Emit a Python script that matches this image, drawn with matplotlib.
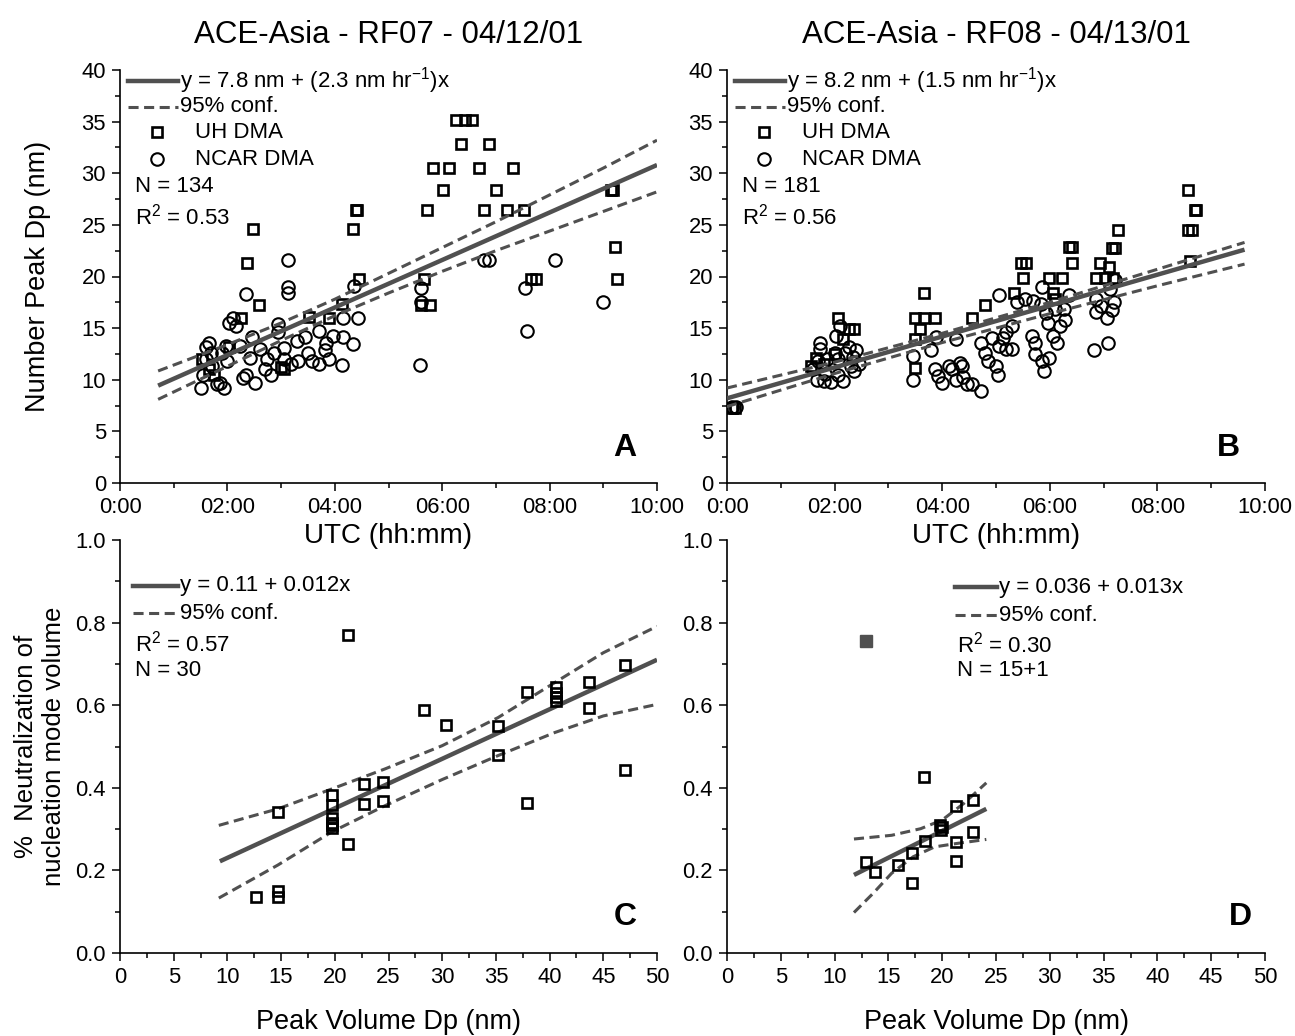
import numpy as np
import matplotlib.pyplot as plt
from matplotlib.ticker import MultipleLocator

plt.rcParams['font.family'] = ['Liberation Sans', 'DejaVu Sans']
plt.rcParams['mathtext.fontset'] = 'custom'
plt.rcParams['mathtext.rm'] = 'Liberation Sans'
plt.rcParams['mathtext.default'] = 'regular'

# ---- panel A : RF07, peak Dp vs time (hours UTC) ----
uh_A_t = [2.48, 2.37, 2.58, 2.26, 4.39, 4.42, 4.34, 4.45, 6.26, 6.42, 6.55, 6.35, 6.88,
          5.83, 6.13, 6.68, 7.31, 6.02, 7.00, 5.71, 6.77, 7.21, 7.53, 9.14, 9.18, 9.21,
          9.25, 5.66, 5.61, 5.77, 7.65, 7.74, 4.13, 1.52, 1.65, 2.03, 3.00, 3.06, 3.52,
          3.90, 1.75]
uh_A_dp = [24.6, 21.3, 17.2, 16.0, 26.4, 26.4, 24.6, 19.8, 35.2, 35.2, 35.2, 32.8, 32.8,
           30.5, 30.5, 30.5, 30.5, 28.4, 28.4, 26.4, 26.4, 26.4, 26.4, 28.4, 28.4, 22.9,
           19.8, 19.8, 17.2, 17.2, 19.8, 19.8, 17.3, 12.0, 11.0, 13.2, 11.2, 11.0, 16.1,
           16.0, 10.5]
nc_A_t = [3.13, 3.13, 3.13, 2.35, 5.61, 5.61, 5.59, 6.77, 6.87, 8.10, 7.55, 7.57, 8.99,
          4.35, 4.43, 4.34, 4.16, 4.15, 3.97, 4.13, 3.83, 3.82, 3.71, 3.58, 3.71, 3.45,
          3.32, 3.19, 3.06, 3.06, 2.94, 2.87, 2.81, 2.74, 2.52, 2.42, 2.45, 2.35, 2.29,
          2.23, 2.16, 2.10, 2.03, 1.97, 1.90, 1.87, 1.94, 1.81, 1.65, 1.61, 1.55, 1.50,
          1.71, 2.94, 1.60, 1.70, 2.00, 2.60, 2.70, 3.30, 3.50, 3.90]
nc_A_dp = [21.6, 19.0, 18.4, 18.3, 18.9, 17.5, 11.4, 21.6, 21.6, 21.6, 18.9, 14.7, 17.5,
           19.1, 16.0, 13.5, 14.1, 16.0, 14.2, 11.4, 13.6, 12.9, 11.5, 11.8, 14.7, 14.1,
           11.8, 11.5, 12.0, 13.1, 14.6, 12.6, 10.5, 12.0, 9.7, 12.1, 14.1, 10.5, 10.2,
           13.3, 15.2, 16.0, 15.5, 13.3, 12.6, 9.7, 9.2, 9.6, 13.6, 12.0, 10.5, 9.2,
           11.3, 15.4, 13.2, 12.6, 11.8, 13.0, 11.0, 13.8, 12.6, 12.0]
fit_A_t = [0.71, 10.0]
fit_A_dp = [9.43, 30.8]
band_A_t = [0.71, 2, 3, 4, 5, 6, 7, 8, 9, 10]
band_A_hi = [10.85, 13.4, 15.5, 17.8, 20.3, 22.8, 25.3, 27.9, 30.5, 33.2]
band_A_lo = [8.1, 11.3, 13.8, 16.2, 18.4, 20.5, 22.5, 24.4, 26.3, 28.2]

# ---- panel B : RF08 ----
uh_B_t = [8.56, 8.69, 8.72, 8.64, 8.56, 8.60, 7.26, 7.22, 7.15, 6.36, 6.42, 6.42, 5.46,
          5.56, 5.51, 5.99, 6.22, 6.94, 6.86, 7.02, 5.33, 6.06, 4.79, 4.56, 3.66, 3.50,
          3.66, 3.86, 3.59, 3.50, 3.50, 2.06, 2.36, 2.26, 2.16, 1.66, 1.56, 0.10, 0.15,
          7.10, 7.18, 6.09, 1.80, 2.00]
uh_B_dp = [28.4, 26.4, 26.4, 24.5, 24.5, 21.5, 24.5, 22.8, 22.8, 22.9, 22.9, 21.3, 21.3,
           21.3, 19.9, 19.9, 19.9, 21.3, 19.9, 19.9, 18.4, 18.4, 17.2, 16.0, 18.4, 16.0,
           16.0, 16.0, 14.9, 13.9, 11.1, 16.0, 14.9, 14.9, 13.9, 12.1, 11.3, 7.3, 7.3,
           20.9, 19.9, 17.8, 11.5, 12.5]
nc_B_t = [0.10, 0.17, 1.73, 1.73, 1.60, 1.67, 1.80, 1.93, 2.06, 2.16, 2.06, 1.86, 2.00,
          2.20, 2.30, 2.36, 2.03, 2.10, 2.26, 2.40, 1.83, 1.70, 2.35, 2.45,
          3.46, 3.46, 3.79, 3.89, 3.86, 3.93, 4.00, 4.13, 4.19, 4.26, 4.26, 4.33, 4.39,
          4.46, 4.56, 4.36, 4.73,
          4.73, 4.79, 4.86, 5.00, 5.03, 4.93, 5.06, 5.19, 5.29, 5.19, 5.29, 5.06, 5.13,
          5.39, 5.53, 5.69, 5.83, 5.66, 5.73, 5.73, 5.86, 5.89, 5.99, 5.86, 5.93, 5.96,
          6.06, 6.13, 6.19, 6.29, 6.36, 6.26, 6.09,
          6.82, 7.09, 6.86, 6.96, 7.06, 7.16, 7.19, 6.86, 7.12, 7.22]
nc_B_dp = [7.4, 7.4, 13.6, 13.0, 11.0, 10.0, 9.9, 9.8, 10.5, 9.9, 12.0, 12.0, 12.6,
           12.6, 11.3, 10.8, 14.2, 15.2, 13.2, 12.9, 10.6, 11.8, 12.2, 11.5,
           12.3, 10.0, 12.9, 14.1, 11.0, 10.4, 9.7, 11.3, 11.0, 13.9, 10.0, 11.6, 10.3,
           9.6, 9.6, 11.3, 8.9,
           13.6, 12.6, 11.8, 11.3, 10.5, 14.0, 13.3, 13.0, 13.0, 14.6, 15.2, 18.2, 14.0,
           17.5, 17.8, 17.6, 17.3, 14.2, 13.6, 12.5, 11.8, 10.8, 12.1, 19.0, 16.5, 15.5,
           14.2, 13.6, 15.2, 15.8, 18.2, 16.9, 16.9,
           12.9, 13.6, 16.6, 17.1, 16.0, 16.8, 17.5, 17.8, 18.8, 19.7]
fit_B_t = [0.0, 9.62]
fit_B_dp = [8.2, 22.6]
band_B_t = [0, 2, 4, 6, 8, 9.62]
band_B_hi = [9.2, 11.7, 14.5, 17.5, 20.7, 23.3]
band_B_lo = [7.4, 10.6, 13.6, 16.4, 19.1, 21.2]

# ---- panel C : neutralization vs peak volume Dp ----
c_dp = [21.2, 47.0, 43.7, 43.7, 40.6, 40.6, 40.6, 37.9, 28.3, 30.4, 35.2, 35.2, 37.9,
        47.0, 22.7, 24.5, 22.7, 24.5, 19.7, 19.7, 19.7, 19.7, 19.7, 21.2, 14.7, 12.7,
        14.7, 14.7, 19.7, 40.6]
c_neut = [0.770, 0.697, 0.655, 0.594, 0.645, 0.629, 0.611, 0.633, 0.588, 0.552, 0.550,
          0.479, 0.364, 0.443, 0.409, 0.413, 0.361, 0.369, 0.383, 0.358, 0.326, 0.314,
          0.303, 0.264, 0.342, 0.136, 0.151, 0.136, 0.310, 0.620]
fit_C_dp = [9.3, 50.0]
fit_C_y = [0.222, 0.71]
band_C_dp = [9.2, 14.7, 19.7, 24.7, 30.0, 35.2, 40.5, 45.0, 50.0]
band_C_hi = [0.309, 0.349, 0.397, 0.446, 0.502, 0.570, 0.655, 0.727, 0.791]
band_C_lo = [0.133, 0.213, 0.293, 0.357, 0.420, 0.478, 0.534, 0.574, 0.602]

# ---- panel D ----
d_dp = [18.3, 22.9, 21.3, 19.8, 19.9, 18.4, 21.3, 22.9, 21.3, 17.2, 15.9, 12.9, 13.8, 17.2, 20.0]
d_neut = [0.426, 0.371, 0.355, 0.309, 0.297, 0.272, 0.269, 0.293, 0.223, 0.241, 0.213,
          0.221, 0.195, 0.169, 0.305]
d_out_dp = [12.9]
d_out_neut = [0.756]
fit_D_dp = [11.8, 24.1]
fit_D_y = [0.189, 0.349]
band_D_hi_dp = [11.8, 15.3, 18.0, 20.0, 22.0, 24.1]
band_D_hi = [0.276, 0.285, 0.301, 0.322, 0.362, 0.412]
band_D_lo_dp = [11.8, 13.6, 15.3, 17.3, 19.3, 21.3, 24.1]
band_D_lo = [0.098, 0.145, 0.193, 0.233, 0.257, 0.265, 0.275]

time_ticks = [0, 2, 4, 6, 8, 10]
time_labels = ['0:00', '02:00', '04:00', '06:00', '08:00', '10:00']

GRAY = '#505050'
FS = 16
TICK_FS = 15.8
DASH = (3.3, 1.8)

fig = plt.figure(figsize=(12.95, 10.36), dpi=100)
W, H = 1295, 1036


def make_ax(x0, y_bottom, w):
    return fig.add_axes([x0 / W, 1 - y_bottom / H, w / W, 413 / H])


axA = make_ax(120, 483, 537)
axB = make_ax(727, 483, 538)
axC = make_ax(120, 953, 537)
axD = make_ax(727, 953, 538)

for ax in (axA, axB, axC, axD):
    ax.patch.set_visible(False)
    for s in ('top', 'right'):
        ax.spines[s].set_visible(False)
    for s in ('left', 'bottom'):
        ax.spines[s].set_linewidth(1.2)
    ax.tick_params(which='major', direction='out', length=6, width=1.1, labelsize=TICK_FS, pad=4)
    ax.tick_params(which='minor', direction='out', length=3.5, width=1.1)

sq = dict(marker='s', ls='none', mfc='none', mec='black', ms=7.5, mew=1.9)
ci = dict(marker='o', ls='none', mfc='none', mec='black', ms=9, mew=1.5)


def fit_lines(ax, fx, fy, bx_hi, by_hi, bx_lo, by_lo):
    ax.plot(bx_hi, by_hi, color=GRAY, lw=2.2, dashes=DASH, zorder=3)
    ax.plot(bx_lo, by_lo, color=GRAY, lw=2.2, dashes=DASH, zorder=3)
    ax.plot(fx, fy, color=GRAY, lw=3.2, solid_capstyle='butt', zorder=4)


def legend_lines(ax, x0, x1, y0, y1, eq):
    tr = ax.transAxes
    ax.plot([x0, x1], [y0, y0], transform=tr, color=GRAY, lw=3.2, clip_on=False)
    ax.text(x1 + 0.004, y0, eq, transform=tr, va='center', fontsize=FS)
    ax.plot([x0, x1], [y1, y1], transform=tr, color=GRAY, lw=2.2, dashes=DASH, clip_on=False)
    ax.text(x1 + 0.004, y1, '95% conf.', transform=tr, va='center', fontsize=FS)


# ---- time panels ----
for ax, ut, udp, nt, ndp, ft, fd, bt, bh, bl, eq, n, r2, title, letter, lx in (
        (axA, uh_A_t, uh_A_dp, nc_A_t, nc_A_dp, fit_A_t, fit_A_dp, band_A_t, band_A_hi, band_A_lo,
         'y = 7.8 nm + (2.3 nm hr$^{-1}$)x', 'N = 134', 'R$^2$ = 0.53',
         'ACE-Asia - RF07 - 04/12/01', 'A', 0.94),
        (axB, uh_B_t, uh_B_dp, nc_B_t, nc_B_dp, fit_B_t, fit_B_dp, band_B_t, band_B_hi, band_B_lo,
         'y = 8.2 nm + (1.5 nm hr$^{-1}$)x', 'N = 181', 'R$^2$ = 0.56',
         'ACE-Asia - RF08 - 04/13/01', 'B', 0.932)):
    ax.plot(nt, ndp, zorder=2, **ci)
    ax.plot(ut, udp, zorder=2, **sq)
    fit_lines(ax, ft, fd, bt, bh, bt, bl)
    ax.set_xlim(0, 10)
    ax.set_ylim(0, 40)
    ax.set_xticks(time_ticks)
    ax.set_xticklabels(time_labels)
    ax.xaxis.set_minor_locator(MultipleLocator(1))
    ax.yaxis.set_major_locator(MultipleLocator(5))
    ax.yaxis.set_minor_locator(MultipleLocator(2.5))
    ax.set_xlabel('UTC (hh:mm)', fontsize=20)
    ax.xaxis.set_label_coords(0.5, -0.128)
    ax.xaxis.label.set_va('center')
    tr = ax.transAxes
    legend_lines(ax, 0.015, 0.108, 0.974, 0.911, eq)
    ax.plot([0.069], [0.849], transform=tr, clip_on=False, **sq)
    ax.text(0.14, 0.849, 'UH DMA', transform=tr, va='center', fontsize=FS)
    ax.plot([0.069], [0.784], transform=tr, clip_on=False, **ci)
    ax.text(0.14, 0.784, 'NCAR DMA', transform=tr, va='center', fontsize=FS)
    ax.text(0.028, 0.717, n, transform=tr, va='center', fontsize=FS)
    ax.text(0.028, 0.646, r2, transform=tr, va='center', fontsize=FS)
    ax.text(lx, 0.085, letter, transform=tr, ha='center', va='center', fontsize=23, fontweight='bold')
    fig.text(ax.get_position().x0 + ax.get_position().width / 2, 1 - 35 / H, title,
             ha='center', va='center', fontsize=22.5)

axA.set_ylabel('Number Peak Dp (nm)', fontsize=19.5)
axA.yaxis.set_label_coords(-0.153, 0.5)
axA.yaxis.label.set_va('center')

# ---- neutralization panels ----
axC.plot(c_dp, c_neut, zorder=5, **sq)
fit_lines(axC, fit_C_dp, fit_C_y, band_C_dp, band_C_hi, band_C_dp, band_C_lo)
axD.plot(d_dp, d_neut, zorder=5, **sq)
axD.plot(d_out_dp, d_out_neut, marker='s', ls='none', color=GRAY, ms=8, zorder=5)
fit_lines(axD, fit_D_dp, fit_D_y, band_D_hi_dp, band_D_hi, band_D_lo_dp, band_D_lo)

for ax in (axC, axD):
    ax.set_xlim(0, 50)
    ax.set_ylim(0, 1.0)
    ax.xaxis.set_major_locator(MultipleLocator(5))
    ax.xaxis.set_minor_locator(MultipleLocator(2.5))
    ax.yaxis.set_major_locator(MultipleLocator(0.2))
    ax.yaxis.set_minor_locator(MultipleLocator(0.1))
    ax.yaxis.set_major_formatter('{x:.1f}')
    ax.set_xlabel('Peak Volume Dp (nm)', fontsize=19.5)
    ax.xaxis.set_label_coords(0.5, -0.166)
    ax.xaxis.label.set_va('center')

legend_lines(axC, 0.024, 0.108, 0.889, 0.823, 'y = 0.11 + 0.012x')
axC.text(0.028, 0.75, 'R$^2$ = 0.57', transform=axC.transAxes, va='center', fontsize=FS)
axC.text(0.028, 0.685, 'N = 30', transform=axC.transAxes, va='center', fontsize=FS)
axC.text(0.94, 0.087, 'C', transform=axC.transAxes, ha='center', va='center', fontsize=23, fontweight='bold')

legend_lines(axD, 0.424, 0.502, 0.886, 0.818, 'y = 0.036 + 0.013x')
axD.text(0.428, 0.748, 'R$^2$ = 0.30', transform=axD.transAxes, va='center', fontsize=FS)
axD.text(0.428, 0.685, 'N = 15+1', transform=axD.transAxes, va='center', fontsize=FS)
axD.text(0.955, 0.087, 'D', transform=axD.transAxes, ha='center', va='center', fontsize=23, fontweight='bold')

axC.set_ylabel('%  Neutralization of\nnucleation mode volume', fontsize=18.5, linespacing=1.2)
axC.yaxis.set_label_coords(-0.149, 0.5)
axC.yaxis.label.set_va('center')

fig.savefig('out.png', dpi=100)
